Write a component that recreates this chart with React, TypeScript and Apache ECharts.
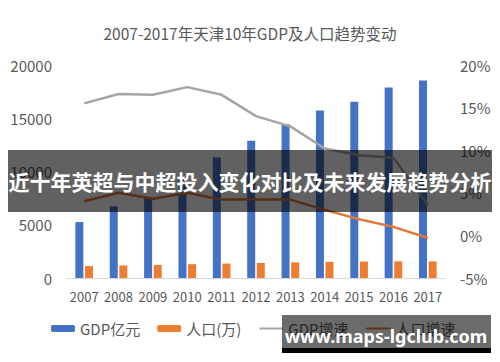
import React, { useEffect, useRef } from "react";
import * as echarts from "echarts";

const years = ["2007", "2008", "2009", "2010", "2011", "2012", "2013", "2014", "2015", "2016", "2017"];
const gdp = [5250, 6720, 7520, 9220, 11310, 12890, 14440, 15730, 16540, 17890, 18550];
const population = [1115, 1176, 1228, 1299, 1355, 1413, 1472, 1517, 1547, 1562, 1557];
const gdpGrowth = [15.5, 16.6, 16.5, 17.4, 16.5, 14.0, 12.8, 10.2, 9.4, 9.1, 3.6];
const popGrowth = [4.0, 5.0, 4.3, 5.0, 4.2, 4.2, 4.2, 3.0, 1.9, 1.0, -0.3];
const leftTicks = { min: 0, max: 20000, interval: 5000 };
const rightTicks = { min: -5, max: 20, interval: 5 };

const titleText = "2007-2017年天津10年GDP及人口趋势变动";
const bannerText = "近十年英超与中超投入变化对比及未来发展趋势分析";
const watermarkText = "www.maps-lgclub.com";
const seriesNames = ["GDP亿元", "人口(万)", "GDP增速", "人口增速"];

const FONT = "'Noto Sans CJK SC', 'Noto Sans', sans-serif";
const TXT = "#595959";

export default function App() {
  const ref = useRef<HTMLDivElement>(null);
  useEffect(() => {
    document.body.style.margin = "0";
    const chart = echarts.init(ref.current!, null, { renderer: "svg" });
    chart.setOption({
      animation: false,
      backgroundColor: "#ffffff",
      textStyle: { fontFamily: FONT },
      title: {
        text: titleText,
        left: "center",
        top: 20,
        textStyle: { fontSize: 15.5, fontWeight: "normal", color: TXT, fontFamily: FONT },
      },
      legend: {
        left: 46,
        top: 316,
        itemWidth: 24,
        itemHeight: 7,
        itemGap: 17,
        textStyle: { fontSize: 15, color: TXT, fontFamily: FONT },
        data: [
          { name: seriesNames[0] },
          { name: seriesNames[1] },
          { name: seriesNames[2], itemStyle: { opacity: 0 } },
          { name: seriesNames[3], itemStyle: { opacity: 0 } },
        ],
      },
      grid: { left: 67, right: 55, top: 65, bottom: 84 },
      xAxis: {
        type: "category",
        data: years,
        axisLine: { lineStyle: { color: "#d9d9d9", width: 1 } },
        axisTick: { show: false },
        axisLabel: { color: TXT, fontSize: 13, margin: 12, interval: 0, fontFamily: FONT },
      },
      yAxis: [
        {
          type: "value",
          min: leftTicks.min,
          max: leftTicks.max,
          interval: leftTicks.interval,
          axisLine: { show: false },
          axisTick: { show: false },
          splitLine: { show: false },
          axisLabel: {
            color: TXT,
            fontSize: 15,
            margin: 15,
            fontFamily: FONT,
            formatter: (v: number) => String(v),
          },
        },
        {
          type: "value",
          min: rightTicks.min,
          max: rightTicks.max,
          interval: rightTicks.interval,
          axisLine: { show: false },
          axisTick: { show: false },
          splitLine: { show: false },
          axisLabel: { color: TXT, fontSize: 15, margin: 15, formatter: "{value}%", fontFamily: FONT },
        },
      ],
      series: [
        {
          name: seriesNames[0],
          type: "bar",
          data: gdp,
          barWidth: 8,
          barGap: "20%",
          itemStyle: { color: "#4472C4" },
        },
        {
          name: seriesNames[1],
          type: "bar",
          data: population,
          barWidth: 8,
          itemStyle: { color: "#ED7D31" },
        },
        {
          name: seriesNames[2],
          type: "line",
          yAxisIndex: 1,
          data: gdpGrowth,
          symbol: "circle",
          showSymbol: false,
          lineStyle: { color: "#A5A5A5", width: 2.5 },
          itemStyle: { color: "#A5A5A5" },
        },
        {
          name: seriesNames[3],
          type: "line",
          yAxisIndex: 1,
          data: popGrowth,
          symbol: "circle",
          showSymbol: false,
          lineStyle: { color: "#DD7A3A", width: 2.5 },
          itemStyle: { color: "#DD7A3A" },
        },
      ],
      graphic: [
        {
          type: "rect",
          shape: { x: 8, y: 150, width: 484, height: 62 },
          style: { fill: "rgba(0,0,0,0.62)" },
          z: 100,
        },
        {
          type: "text",
          x: 250,
          y: 181,
          style: {
            text: bannerText,
            fill: "#ffffff",
            font: `bold 21px ${FONT}`,
            textAlign: "center",
            textVerticalAlign: "middle",
          },
          z: 101,
        },
        {
          type: "rect",
          shape: { x: 282, y: 315, width: 209, height: 34 },
          style: { fill: "rgba(0,0,0,0.58)" },
          z: 100,
        },
        {
          type: "rect",
          shape: { x: 282, y: 348, width: 209, height: 5 },
          style: { fill: "#000000" },
          z: 100,
        },
        {
          type: "text",
          x: 386,
          y: 336,
          style: {
            text: watermarkText,
            fill: "#ffffff",
            font: `bold 18px 'Noto Sans', 'DejaVu Sans', sans-serif`,
            textAlign: "center",
            textVerticalAlign: "middle",
          },
          z: 101,
        },
      ],
    });
    return () => chart.dispose();
  }, []);
  return <div ref={ref} style={{ width: 500, height: 362 }} />;
}
